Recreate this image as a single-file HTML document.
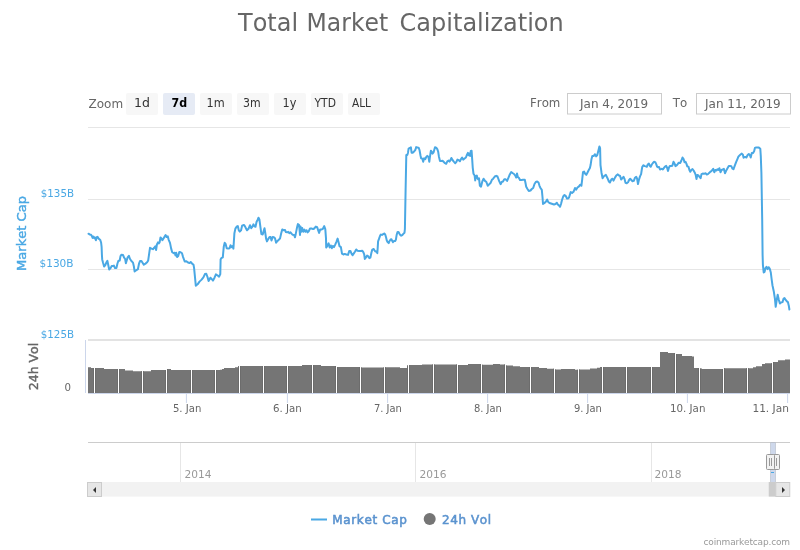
<!DOCTYPE html>
<html><head><meta charset="utf-8"><title>Total Market Capitalization</title>
<style>
html,body{margin:0;padding:0;background:#fff;width:800px;height:550px;overflow:hidden}
svg{display:block;will-change:transform;font-family:"DejaVu Sans","Liberation Sans",sans-serif;font-kerning:none}
text{white-space:pre}
.t{font-size:25px;fill:#666}
.lab{font-size:12px;fill:#666}
.btn{font-size:12.5px;fill:#333}
.bsel{font-size:12.5px;fill:#000;font-weight:bold}
.inp{font-size:12px;fill:#666}
.yl{font-size:11px;fill:#4aa8e4}
.xl{font-size:11px;fill:#666}
.nl{font-size:11px;fill:#999}
.lg{font-size:12px;fill:#5b93cf;stroke:#5b93cf;stroke-width:0.55px}
.cr{font-size:9px;fill:#999}
</style></head><body>
<svg width="800" height="550" viewBox="0 0 800 550">
<rect width="800" height="550" fill="#fff"/>
<rect x="126" y="93" width="32" height="22" rx="2" fill="#f7f7f7"/><text id="b1d" x="134.00" y="107" class="btn" textLength="15.89" lengthAdjust="spacingAndGlyphs">1d</text><rect x="163" y="93" width="32" height="22" rx="2" fill="#e6ebf5"/><text id="b7d" x="171.50" y="107" class="bsel" textLength="15.66" lengthAdjust="spacingAndGlyphs">7d</text><rect x="200" y="93" width="32" height="22" rx="2" fill="#f7f7f7"/><text id="b1m" x="206.50" y="107" class="btn" textLength="18.14" lengthAdjust="spacingAndGlyphs">1m</text><rect x="237" y="93" width="32" height="22" rx="2" fill="#f7f7f7"/><text id="b3m" x="243.00" y="107" class="btn" textLength="17.64" lengthAdjust="spacingAndGlyphs">3m</text><rect x="274" y="93" width="32" height="22" rx="2" fill="#f7f7f7"/><text id="b1y" x="282.50" y="107" class="btn" textLength="13.86" lengthAdjust="spacingAndGlyphs">1y</text><rect x="311" y="93" width="32" height="22" rx="2" fill="#f7f7f7"/><text id="bYTD" x="314.50" y="107" class="btn" textLength="21.41" lengthAdjust="spacingAndGlyphs">YTD</text><rect x="348" y="93" width="32" height="22" rx="2" fill="#f7f7f7"/><text id="bALL" x="352.00" y="107" class="btn" textLength="18.98" lengthAdjust="spacingAndGlyphs">ALL</text>
<rect x="567.5" y="93.5" width="94" height="20.5" fill="#fff" stroke="#ccc" stroke-width="1"/>
<rect x="696.5" y="93.5" width="94" height="20.5" fill="#fff" stroke="#ccc" stroke-width="1"/>
<g fill="#e6e6e6">
<rect x="88" y="127" width="702" height="1"/>
<rect x="88" y="199" width="702" height="1"/>
<rect x="88" y="269" width="702" height="1"/>
<rect x="88" y="339" width="702" height="2" fill="#e3e3e3"/>
</g>
<text transform="translate(26.4 233.5) rotate(-90)" text-anchor="middle" textLength="75" lengthAdjust="spacingAndGlyphs" style="font-size:12.5px;fill:#4aa8e4;stroke:#4aa8e4;stroke-width:0.4px">Market Cap</text>
<text transform="translate(38.3 366.5) rotate(-90)" text-anchor="middle" textLength="47.5" lengthAdjust="spacingAndGlyphs" style="font-size:12.5px;fill:#666;stroke:#666;stroke-width:0.4px">24h Vol</text>
<clipPath id="vc"><path d="M88 393 L88 367.25 L91 367.25 L91 368.1 L104 368.1 L104 369 L125 369 L125 370.4 L133 370.4 L133 371.25 L151 371.25 L151 370.1 L166 370.1 L166 369.1 L171 369.1 L171 370.1 L180 370.1 L180 370 L220 370 L220 369.75 L222 369.75 L222 369 L224 369 L224 368.1 L235 368.1 L235 367.25 L238 367.25 L238 366.25 L240 366.25 L240 366 L302 366 L302 365 L321 365 L321 366 L337 366 L337 366.9 L350 366.9 L350 367 L361 367 L361 367.5 L385 367.5 L385 367.25 L400 367.25 L400 367.9 L407 367.9 L407 365.6 L409 365.6 L409 365 L422 365 L422 364.5 L458 364.5 L458 364.9 L468 364.9 L468 364 L481 364 L481 364.75 L493 364.75 L493 364 L500 364 L500 364.6 L506 364.6 L506 365.6 L513 365.6 L513 366.25 L520 366.25 L520 367.1 L539 367.1 L539 367.9 L547 367.9 L547 368.75 L555 368.75 L555 369.4 L561 369.4 L561 369 L575 369 L575 369.75 L579 369.75 L579 369.4 L590 369.4 L590 368.4 L597 368.4 L597 367.75 L600 367.75 L600 367.1 L660 367.1 L660 352.1 L668 352.1 L668 352.9 L675 352.9 L675 354.1 L682 354.1 L682 355.9 L692 355.9 L692 356.6 L694 356.6 L694 368.1 L700 368.1 L700 368.5 L702 368.5 L702 369 L724 369 L724 368.2 L753 368.2 L753 367.2 L756 367.2 L756 366.2 L762 366.2 L762 364 L765 364 L765 363.2 L773 363.2 L773 362 L778 362 L778 360.2 L785 360.2 L785 359.5 L790 359.5 L790 393 Z"/></clipPath><path d="M88 393 L88 367.25 L91 367.25 L91 368.1 L104 368.1 L104 369 L125 369 L125 370.4 L133 370.4 L133 371.25 L151 371.25 L151 370.1 L166 370.1 L166 369.1 L171 369.1 L171 370.1 L180 370.1 L180 370 L220 370 L220 369.75 L222 369.75 L222 369 L224 369 L224 368.1 L235 368.1 L235 367.25 L238 367.25 L238 366.25 L240 366.25 L240 366 L302 366 L302 365 L321 365 L321 366 L337 366 L337 366.9 L350 366.9 L350 367 L361 367 L361 367.5 L385 367.5 L385 367.25 L400 367.25 L400 367.9 L407 367.9 L407 365.6 L409 365.6 L409 365 L422 365 L422 364.5 L458 364.5 L458 364.9 L468 364.9 L468 364 L481 364 L481 364.75 L493 364.75 L493 364 L500 364 L500 364.6 L506 364.6 L506 365.6 L513 365.6 L513 366.25 L520 366.25 L520 367.1 L539 367.1 L539 367.9 L547 367.9 L547 368.75 L555 368.75 L555 369.4 L561 369.4 L561 369 L575 369 L575 369.75 L579 369.75 L579 369.4 L590 369.4 L590 368.4 L597 368.4 L597 367.75 L600 367.75 L600 367.1 L660 367.1 L660 352.1 L668 352.1 L668 352.9 L675 352.9 L675 354.1 L682 354.1 L682 355.9 L692 355.9 L692 356.6 L694 356.6 L694 368.1 L700 368.1 L700 368.5 L702 368.5 L702 369 L724 369 L724 368.2 L753 368.2 L753 367.2 L756 367.2 L756 366.2 L762 366.2 L762 364 L765 364 L765 363.2 L773 363.2 L773 362 L778 362 L778 360.2 L785 360.2 L785 359.5 L790 359.5 L790 393 Z" fill="#757575"/>
<g fill="#6c6c6c" clip-path="url(#vc)"><rect x="93" y="350" width="1" height="43"/><rect x="95" y="350" width="1" height="43"/><rect x="117" y="350" width="1" height="43"/><rect x="119" y="350" width="1" height="43"/><rect x="141" y="350" width="1" height="43"/><rect x="143" y="350" width="1" height="43"/><rect x="165" y="350" width="1" height="43"/><rect x="167" y="350" width="1" height="43"/><rect x="190" y="350" width="1" height="43"/><rect x="192" y="350" width="1" height="43"/><rect x="214" y="350" width="1" height="43"/><rect x="216" y="350" width="1" height="43"/><rect x="238" y="350" width="1" height="43"/><rect x="240" y="350" width="1" height="43"/><rect x="262" y="350" width="1" height="43"/><rect x="264" y="350" width="1" height="43"/><rect x="286" y="350" width="1" height="43"/><rect x="288" y="350" width="1" height="43"/><rect x="311" y="350" width="1" height="43"/><rect x="313" y="350" width="1" height="43"/><rect x="335" y="350" width="1" height="43"/><rect x="337" y="350" width="1" height="43"/><rect x="359" y="350" width="1" height="43"/><rect x="361" y="350" width="1" height="43"/><rect x="383" y="350" width="1" height="43"/><rect x="385" y="350" width="1" height="43"/><rect x="407" y="350" width="1" height="43"/><rect x="409" y="350" width="1" height="43"/><rect x="432" y="350" width="1" height="43"/><rect x="434" y="350" width="1" height="43"/><rect x="456" y="350" width="1" height="43"/><rect x="458" y="350" width="1" height="43"/><rect x="480" y="350" width="1" height="43"/><rect x="482" y="350" width="1" height="43"/><rect x="504" y="350" width="1" height="43"/><rect x="506" y="350" width="1" height="43"/><rect x="529" y="350" width="1" height="43"/><rect x="531" y="350" width="1" height="43"/><rect x="553" y="350" width="1" height="43"/><rect x="555" y="350" width="1" height="43"/><rect x="577" y="350" width="1" height="43"/><rect x="579" y="350" width="1" height="43"/><rect x="601" y="350" width="1" height="43"/><rect x="603" y="350" width="1" height="43"/><rect x="625" y="350" width="1" height="43"/><rect x="627" y="350" width="1" height="43"/><rect x="650" y="350" width="1" height="43"/><rect x="652" y="350" width="1" height="43"/><rect x="674" y="350" width="1" height="43"/><rect x="676" y="350" width="1" height="43"/><rect x="698" y="350" width="1" height="43"/><rect x="700" y="350" width="1" height="43"/><rect x="722" y="350" width="1" height="43"/><rect x="724" y="350" width="1" height="43"/><rect x="746" y="350" width="1" height="43"/><rect x="748" y="350" width="1" height="43"/><rect x="771" y="350" width="1" height="43"/><rect x="773" y="350" width="1" height="43"/></g><g fill="#fff"><rect x="94" y="350" width="1" height="43"/><rect x="118" y="350" width="1" height="43"/><rect x="142" y="350" width="1" height="43"/><rect x="166" y="350" width="1" height="43"/><rect x="191" y="350" width="1" height="43"/><rect x="215" y="350" width="1" height="43"/><rect x="239" y="350" width="1" height="43"/><rect x="263" y="350" width="1" height="43"/><rect x="287" y="350" width="1" height="43"/><rect x="312" y="350" width="1" height="43"/><rect x="336" y="350" width="1" height="43"/><rect x="360" y="350" width="1" height="43"/><rect x="384" y="350" width="1" height="43"/><rect x="408" y="350" width="1" height="43"/><rect x="433" y="350" width="1" height="43"/><rect x="457" y="350" width="1" height="43"/><rect x="481" y="350" width="1" height="43"/><rect x="505" y="350" width="1" height="43"/><rect x="530" y="350" width="1" height="43"/><rect x="554" y="350" width="1" height="43"/><rect x="578" y="350" width="1" height="43"/><rect x="602" y="350" width="1" height="43"/><rect x="626" y="350" width="1" height="43"/><rect x="651" y="350" width="1" height="43"/><rect x="675" y="350" width="1" height="43"/><rect x="699" y="350" width="1" height="43"/><rect x="723" y="350" width="1" height="43"/><rect x="747" y="350" width="1" height="43"/><rect x="772" y="350" width="1" height="43"/></g>
<rect x="85" y="340" width="1" height="53" fill="#ccd6eb"/>
<rect x="88" y="393" width="702" height="1" fill="#ccd6eb"/>
<g fill="#ccd6eb"><rect x="185.9" y="393" width="1" height="10"/><rect x="286.9" y="393" width="1" height="10"/><rect x="387.1" y="393" width="1" height="10"/><rect x="487.1" y="393" width="1" height="10"/><rect x="587.1" y="393" width="1" height="10"/><rect x="686.9" y="393" width="1" height="10"/><rect x="787.1" y="393" width="1" height="10"/></g>
<path d="M88.5 233.7 L89.9 234.6 L91.0 234.8 L91.8 235.9 L92.6 237.9 L93.5 236.5 L94.3 238.1 L95.0 237.5 L95.9 240.3 L96.8 237.2 L97.5 236.8 L98.6 238.6 L100.1 239.7 L101.1 242.5 L101.6 246.8 L101.9 254.5 L102.2 259.4 L103.0 262.6 L104.1 266.5 L105.2 265.4 L106.3 262.6 L107.4 260.9 L108.1 264.3 L109.2 269.5 L110.3 268.6 L111.7 266.0 L113.1 265.9 L113.9 265.6 L115.0 268.1 L116.4 268.1 L117.4 263.7 L118.3 261.0 L119.7 260.5 L120.5 256.1 L121.5 254.7 L123.0 255.0 L124.1 257.7 L125.1 258.8 L125.9 263.2 L127.5 257.7 L128.9 255.8 L129.9 258.8 L131.4 261.0 L133.0 262.6 L133.9 266.5 L134.6 271.4 L136.1 270.3 L137.9 269.2 L139.0 263.7 L140.1 261.0 L141.3 260.9 L142.4 262.5 L143.8 264.7 L145.5 263.6 L147.1 262.3 L148.2 260.4 L149.3 252.7 L150.0 247.8 L151.5 248.6 L152.9 249.2 L154.2 247.8 L155.3 246.2 L156.1 250.0 L156.9 244.5 L158.0 242.4 L158.8 243.5 L159.6 242.4 L160.5 237.5 L161.5 238.5 L162.4 240.2 L163.5 238.5 L164.5 236.9 L165.6 235.1 L166.7 236.9 L167.8 236.4 L168.6 239.6 L170.0 242.9 L171.1 248.4 L172.2 252.2 L173.8 253.3 L174.7 252.7 L175.5 255.5 L176.2 252.7 L177.1 257.1 L178.2 256.0 L179.3 251.9 L180.6 252.2 L182.0 253.3 L183.1 257.1 L184.7 261.5 L186.4 261.2 L188.0 262.5 L189.6 263.1 L190.7 262.0 L192.1 263.6 L193.5 264.7 L194.1 268.2 L195.1 278.4 L195.8 285.7 L197.6 284.3 L199.5 281.6 L201.6 279.6 L203.4 277.3 L204.9 274.1 L206.3 273.8 L207.5 277.0 L208.6 281.1 L210.4 277.7 L211.8 279.2 L213.0 280.6 L214.5 277.7 L215.9 274.4 L217.7 275.5 L219.1 276.7 L220.3 274.1 L220.6 259.5 L221.3 258.1 L222.8 257.3 L223.8 246.4 L224.7 242.8 L225.7 244.2 L226.7 248.2 L228.2 248.6 L229.6 248.2 L230.5 245.2 L231.5 247.1 L232.5 246.1 L233.4 248.6 L234.4 233.3 L235.4 228.6 L236.6 226.7 L237.8 226.0 L238.8 230.4 L239.8 231.6 L241.0 230.4 L242.1 225.7 L243.9 224.9 L245.0 226.4 L245.9 228.2 L247.0 230.3 L248.5 228.8 L250.0 225.2 L251.2 228.2 L252.3 226.8 L253.4 224.3 L254.5 226.4 L255.5 226.8 L256.6 221.8 L257.7 219.7 L258.5 217.7 L259.4 219.5 L260.5 227.7 L261.4 234.1 L262.7 234.5 L263.6 231.4 L264.5 228.2 L265.2 232.3 L266.1 238.6 L267.0 241.4 L268.2 239.1 L269.5 237.0 L270.6 237.0 L271.5 240.5 L272.7 237.0 L273.9 237.3 L275.0 238.2 L276.1 242.7 L277.5 240.9 L278.8 239.7 L280.0 238.6 L281.2 233.2 L282.3 229.4 L283.6 230.3 L285.0 230.0 L285.9 232.1 L287.0 232.3 L288.2 231.8 L289.3 233.2 L290.5 232.3 L291.5 233.6 L292.7 234.8 L294.1 235.0 L295.0 237.3 L295.7 234.1 L296.8 228.6 L297.9 224.1 L299.1 225.0 L300.0 235.0 L300.5 226.4 L301.3 231.8 L302.2 228.0 L303.3 231.8 L304.4 229.6 L305.5 231.8 L306.5 230.2 L307.6 232.4 L308.7 231.3 L310.0 228.5 L311.5 228.5 L313.1 229.1 L314.2 228.5 L315.8 226.6 L317.2 227.2 L318.3 230.7 L319.1 232.9 L320.2 229.4 L321.8 229.4 L322.9 228.8 L324.2 226.1 L325.3 229.1 L326.0 238.4 L326.2 247.6 L327.3 246.0 L328.6 243.3 L329.7 247.6 L330.8 245.5 L331.9 248.2 L332.9 246.0 L334.0 247.1 L335.1 244.9 L336.5 241.6 L337.6 238.6 L338.7 242.7 L339.5 246.2 L340.9 247.1 L342.0 253.6 L343.4 254.5 L344.7 253.9 L346.4 254.5 L348.0 254.9 L349.3 250.9 L350.4 250.9 L351.5 253.6 L352.6 255.3 L354.0 253.1 L355.1 251.5 L356.2 249.5 L357.5 250.7 L359.1 250.9 L360.7 250.9 L362.2 250.7 L363.3 252.1 L364.2 254.4 L364.8 258.9 L365.8 257.6 L367.1 255.6 L368.3 256.4 L369.3 258.1 L370.4 257.6 L371.4 252.7 L372.3 249.6 L373.7 249.0 L374.5 250.3 L375.3 251.5 L376.4 251.5 L377.3 253.1 L377.7 247.8 L378.1 241.3 L378.9 239.2 L380.0 236.0 L380.8 234.6 L382.0 234.9 L383.2 234.1 L384.5 233.5 L385.3 234.7 L386.1 237.6 L386.8 240.5 L387.6 242.1 L388.7 243.1 L389.4 241.3 L390.6 239.5 L391.4 239.2 L392.2 240.9 L393.0 242.1 L394.1 241.1 L395.3 240.9 L395.9 239.6 L396.7 234.7 L397.6 231.9 L398.5 231.9 L399.6 234.0 L400.4 235.1 L401.2 235.7 L402.3 235.1 L403.3 233.9 L404.5 232.7 L404.9 229.0 L405.6 190.0 L406.3 155.0 L407.3 155.0 L408.0 152.7 L408.6 148.6 L409.8 148.0 L410.9 147.3 L411.6 152.7 L412.7 152.7 L414.1 151.4 L415.3 150.0 L416.2 147.1 L417.5 147.5 L418.6 147.7 L419.5 150.0 L420.5 155.5 L421.1 158.2 L422.3 158.6 L423.2 161.8 L424.1 158.2 L425.3 159.1 L426.4 156.8 L427.3 155.9 L428.4 156.8 L429.3 161.8 L430.0 156.4 L430.9 150.7 L431.8 151.8 L432.5 153.6 L433.6 152.3 L435.0 147.3 L436.2 147.7 L437.3 149.1 L438.2 151.8 L438.9 156.4 L440.0 160.9 L441.4 160.9 L442.5 160.7 L443.6 161.8 L445.0 163.2 L446.2 163.8 L447.3 161.4 L448.6 160.5 L449.5 161.6 L450.5 160.0 L451.4 158.0 L452.5 160.0 L453.8 161.6 L455.3 163.2 L456.4 161.8 L457.4 159.6 L458.8 160.2 L459.9 161.3 L461.0 159.1 L462.1 157.5 L463.2 159.6 L464.6 158.5 L465.9 157.5 L467.0 154.7 L467.9 152.9 L468.6 155.3 L469.4 153.6 L470.1 156.1 L470.8 150.9 L471.6 150.7 L472.2 159.6 L472.7 167.3 L473.5 173.8 L474.6 175.5 L475.2 180.4 L475.9 176.0 L476.8 175.5 L477.4 178.2 L478.1 179.3 L479.0 178.2 L479.9 185.8 L481.0 186.7 L482.3 181.5 L483.6 178.7 L485.0 180.9 L486.4 182.0 L487.7 185.8 L489.0 184.5 L490.5 183.1 L491.9 179.8 L493.2 178.7 L494.8 176.5 L496.2 175.8 L497.5 176.5 L499.2 181.2 L500.6 184.2 L501.7 182.0 L503.0 181.5 L504.3 179.3 L505.7 179.3 L507.1 180.9 L508.5 177.6 L509.8 174.4 L511.2 172.0 L512.5 173.0 L514.0 174.0 L515.5 176.0 L516.2 177.5 L517.0 173.5 L517.8 177.0 L519.0 178.0 L520.0 180.0 L521.5 180.0 L523.0 179.8 L524.8 179.8 L525.5 183.0 L526.2 186.8 L527.5 189.0 L528.8 191.0 L530.5 190.5 L531.8 189.0 L533.2 188.0 L534.5 184.0 L535.8 182.0 L537.2 181.5 L538.5 182.5 L539.5 185.8 L540.5 188.0 L541.8 189.8 L542.5 197.0 L543.0 204.0 L544.5 203.0 L546.0 201.5 L547.2 199.5 L548.2 202.0 L549.5 203.0 L551.0 203.5 L552.5 204.0 L554.0 204.5 L555.5 204.0 L556.8 202.8 L557.8 204.5 L559.0 205.5 L560.0 206.8 L561.0 204.0 L562.0 200.0 L563.2 196.5 L564.5 195.0 L565.8 196.0 L567.0 198.5 L568.2 198.5 L569.1 197.3 L570.7 192.1 L572.1 192.9 L573.5 191.8 L575.0 188.0 L576.1 189.6 L577.5 187.5 L579.0 186.4 L580.1 184.7 L581.4 185.8 L582.2 179.3 L583.0 172.2 L584.1 171.6 L585.2 173.8 L586.3 174.9 L587.4 172.7 L588.5 170.5 L589.9 168.1 L590.6 165.1 L591.4 159.6 L592.3 156.1 L593.6 156.1 L595.0 154.2 L596.1 156.4 L597.2 155.3 L598.3 150.9 L599.4 146.5 L600.1 148.2 L600.5 165.1 L601.5 172.7 L602.6 178.2 L604.1 176.0 L605.9 174.9 L607.5 178.2 L608.9 181.5 L609.9 182.5 L611.4 179.3 L612.5 178.7 L613.5 180.6 L615.0 177.6 L616.3 175.5 L617.6 174.4 L619.0 175.5 L620.1 176.0 L621.1 179.5 L622.3 178.2 L623.5 176.8 L624.4 178.6 L625.5 182.7 L626.8 183.2 L628.0 182.3 L629.1 180.0 L630.2 178.8 L631.4 180.0 L632.5 181.2 L633.8 180.9 L635.0 177.7 L636.2 176.8 L637.1 178.6 L638.0 184.1 L638.9 180.0 L640.0 176.4 L641.1 174.1 L641.8 169.5 L642.3 166.8 L643.5 165.2 L644.7 166.1 L645.9 166.4 L646.8 166.8 L647.7 164.5 L648.9 163.6 L649.8 165.9 L650.7 166.8 L651.8 164.5 L652.9 163.0 L654.1 161.8 L655.3 162.1 L656.2 164.1 L657.1 166.6 L658.0 167.3 L659.1 167.0 L660.0 169.5 L660.9 169.1 L662.0 168.8 L662.9 169.5 L663.8 168.2 L665.0 166.6 L666.2 165.9 L667.1 167.7 L668.0 170.9 L668.9 167.7 L669.8 166.1 L670.9 166.1 L672.3 165.7 L673.5 161.8 L674.4 163.2 L675.5 166.1 L676.5 165.5 L677.7 164.1 L678.6 162.7 L680.3 162.9 L681.4 160.5 L682.5 157.5 L683.6 159.1 L684.5 162.3 L685.5 161.8 L686.4 163.6 L687.3 166.4 L688.5 166.8 L689.4 170.0 L690.3 171.8 L691.4 170.0 L692.5 169.1 L693.6 170.5 L694.8 172.7 L695.7 175.0 L696.5 179.1 L697.3 175.0 L698.5 175.5 L699.5 176.8 L700.6 178.2 L701.5 174.1 L702.7 173.6 L704.1 173.8 L705.5 173.2 L706.8 174.5 L707.9 174.1 L709.1 172.9 L710.6 171.6 L711.8 170.7 L713.2 168.9 L714.3 172.3 L715.2 170.0 L716.4 170.5 L717.5 169.3 L718.5 170.0 L719.4 168.2 L720.5 172.3 L721.5 170.0 L722.7 169.5 L723.9 168.9 L725.0 173.2 L726.1 170.9 L727.5 168.2 L728.8 165.9 L730.0 165.9 L731.3 166.2 L732.4 168.6 L733.5 169.2 L734.6 166.2 L736.0 162.4 L737.4 159.1 L738.5 156.4 L740.0 155.1 L741.8 153.6 L742.9 154.7 L743.6 157.7 L745.1 156.9 L746.4 157.5 L747.5 155.3 L748.8 154.0 L749.9 155.1 L750.7 157.5 L751.8 153.1 L753.1 152.9 L754.2 150.9 L754.9 147.9 L756.2 147.4 L757.5 147.6 L758.9 147.6 L760.3 148.7 L760.8 156.4 L761.4 172.7 L762.2 220.0 L762.6 255.0 L762.9 264.8 L763.7 272.5 L764.6 271.9 L765.4 268.1 L766.5 266.8 L767.5 269.2 L768.6 267.2 L769.7 268.6 L770.8 272.5 L771.6 279.0 L772.5 285.5 L773.8 291.5 L774.9 298.6 L775.7 306.8 L776.6 300.8 L777.7 294.8 L778.8 299.7 L779.9 303.5 L781.0 302.5 L782.5 302.1 L783.6 298.6 L784.5 298.1 L785.5 299.7 L786.9 301.4 L787.9 302.1 L788.8 305.7 L789.4 309.5" fill="none" stroke="#4aa8e4" stroke-width="2" stroke-linejoin="round" stroke-linecap="round"/>
<rect x="88" y="442" width="702" height="1" fill="#ccc"/>
<g fill="#e6e6e6"><rect x="180" y="443" width="1" height="39"/><rect x="415" y="443" width="1" height="39"/><rect x="651" y="443" width="1" height="39"/></g>
<rect x="770.3" y="442.5" width="5.5" height="39.5" fill="rgba(102,133,194,0.32)"/>
<rect x="770" y="443" width="1" height="39" fill="#c4c9d3" opacity="0.8"/><rect x="775" y="443" width="1" height="39" fill="#c4c9d3" opacity="0.8"/>
<rect x="771" y="472" width="3" height="1" fill="#4aa8e4"/>
<rect x="88" y="482" width="702" height="14.6" fill="#f2f2f2"/>
<rect x="768.75" y="482" width="7" height="14.6" fill="#ccc"/>
<rect x="87.5" y="482.5" width="14" height="14" fill="#e6e6e6" stroke="#ccc" stroke-width="1"/>
<path d="M96 487 L96 493 L93 490 Z" fill="#333"/>
<rect x="775.75" y="482.5" width="14" height="14" fill="#e6e6e6" stroke="#ccc" stroke-width="1"/>
<path d="M782 487 L782 493 L785 490 Z" fill="#333"/>
<rect x="771.5" y="454.5" width="8" height="15" rx="1" fill="#f2f2f2" stroke="#999" stroke-width="1"/>
<rect x="776" y="458" width="1" height="8" fill="#999"/>
<rect x="766.5" y="454.5" width="8" height="15" rx="1" fill="#f2f2f2" stroke="#999" stroke-width="1"/>
<rect x="769" y="458" width="1" height="8" fill="#999"/><rect x="771" y="458" width="1" height="8" fill="#999"/>
<rect x="311" y="518.5" width="16" height="2" fill="#4aa8e4"/>
<circle cx="429.7" cy="519" r="6" fill="#757575"/>
<text id="tw1" x="238.00" y="31" class="t" textLength="60.04" lengthAdjust="spacingAndGlyphs">Total</text>
<text id="tw2" x="306.60" y="31" class="t" textLength="81.64" lengthAdjust="spacingAndGlyphs">Market</text>
<text id="tw3" x="399.60" y="31" class="t" textLength="164.14" lengthAdjust="spacingAndGlyphs">Capitalization</text>
<text id="zoom" x="88.50" y="108" class="lab" textLength="34.59" lengthAdjust="spacingAndGlyphs">Zoom</text>
<text id="from" x="530.00" y="107" class="lab" textLength="30.37" lengthAdjust="spacingAndGlyphs">From</text>
<text id="jan4" x="580.00" y="107.5" class="inp" textLength="68.13" lengthAdjust="spacingAndGlyphs">Jan 4, 2019</text>
<text id="to" x="672.75" y="107" class="lab" textLength="14.42" lengthAdjust="spacingAndGlyphs">To</text>
<text id="jan11" x="705.00" y="107.5" class="inp" textLength="75.75" lengthAdjust="spacingAndGlyphs">Jan 11, 2019</text>
<text id="y135" x="40.75" y="196.8" class="yl" textLength="33.30" lengthAdjust="spacingAndGlyphs">$135B</text>
<text id="y130" x="39.50" y="267" class="yl" textLength="34.05" lengthAdjust="spacingAndGlyphs">$130B</text>
<text id="y125" x="40.75" y="337.8" class="yl" textLength="33.30" lengthAdjust="spacingAndGlyphs">$125B</text>
<text id="y0" x="64.50" y="390.5" class="lab" style="font-size:11px" textLength="6.50" lengthAdjust="spacingAndGlyphs">0</text>
<text id="x5" x="172.90" y="412" class="xl" textLength="28.45" lengthAdjust="spacingAndGlyphs">5. Jan</text>
<text id="x6" x="273.10" y="412" class="xl" textLength="28.75" lengthAdjust="spacingAndGlyphs">6. Jan</text>
<text id="x7" x="373.90" y="412" class="xl" textLength="27.95" lengthAdjust="spacingAndGlyphs">7. Jan</text>
<text id="x8" x="473.90" y="412" class="xl" textLength="27.95" lengthAdjust="spacingAndGlyphs">8. Jan</text>
<text id="x9" x="573.90" y="412" class="xl" textLength="27.95" lengthAdjust="spacingAndGlyphs">9. Jan</text>
<text id="x10" x="669.90" y="412" class="xl" textLength="35.55" lengthAdjust="spacingAndGlyphs">10. Jan</text>
<text id="x11" x="752.40" y="412" class="xl" textLength="36.55" lengthAdjust="spacingAndGlyphs">11. Jan</text>
<text id="n2014" x="184.50" y="478" class="nl" textLength="27.00" lengthAdjust="spacingAndGlyphs">2014</text>
<text id="n2016" x="419.50" y="478" class="nl" textLength="27.00" lengthAdjust="spacingAndGlyphs">2016</text>
<text id="n2018" x="654.50" y="478" class="nl" textLength="27.00" lengthAdjust="spacingAndGlyphs">2018</text>
<text id="lgmc" x="332.25" y="524" class="lg" textLength="74.73" lengthAdjust="spacing">Market Cap</text>
<text id="lgvol" x="442.00" y="524" class="lg" textLength="49.08" lengthAdjust="spacing">24h Vol</text>
<text id="cr" x="703.50" y="545" class="cr" textLength="86.59" lengthAdjust="spacing">coinmarketcap.com</text>
</svg>
</body></html>
